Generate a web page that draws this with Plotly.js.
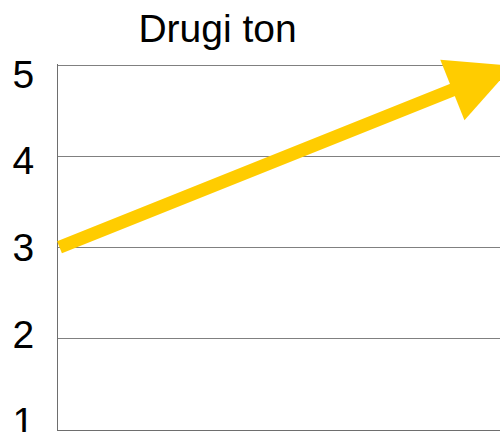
<!DOCTYPE html>
<html>
<head>
<meta charset="utf-8">
<script src="https://cdn.plot.ly/plotly-3.0.1.min.js"></script>
<style>
html, body { margin: 0; padding: 0; overflow: hidden; background: #fff; }
#chart { width: 540px; height: 432px; }
</style>
</head>
<body>
<div id="chart"></div>
<script>
// Data
const chartTitle = "Drugi ton";
const yTickVals = [1, 2, 3, 4, 5];
const yTickText = ["1", "2", "3", "4", "5"];
const arrowX = [0, 10];   // tail, head
const arrowY = [3, 5];

const W = 540, H = 432;
const fontFam = "Liberation Sans, Arial, sans-serif";

const layout = {
  width: W,
  height: H,
  margin: { l: 58, r: 0, t: 64, b: 2, pad: 0 },
  paper_bgcolor: "#ffffff",
  plot_bgcolor: "#ffffff",
  showlegend: false,
  title: {
    text: chartTitle,
    font: { family: fontFam, size: 39, color: "#000000" },
    xref: "container",
    yref: "container",
    x: 217.5 / W,
    xanchor: "center",
    y: 1 - 42 / H,
    yanchor: "bottom"
  },
  xaxis: {
    range: [0, 10.6],
    showgrid: false,
    zeroline: false,
    showline: true,
    linecolor: "#6e6e6e",
    linewidth: 1,
    showticklabels: false,
    ticks: "",
    fixedrange: true
  },
  yaxis: {
    range: [1, 5.02],
    tickvals: yTickVals,
    showticklabels: false,
    showgrid: true,
    gridcolor: "#808080",
    gridwidth: 1,
    zeroline: false,
    showline: true,
    linecolor: "#6e6e6e",
    linewidth: 1,
    ticks: "",
    fixedrange: true
  },
  yaxis2: {
    overlaying: "y",
    side: "left",
    range: [0.896, 5.115],
    tickvals: yTickVals,
    ticktext: yTickText,
    showgrid: false,
    zeroline: false,
    showline: false,
    ticks: "outside",
    ticklen: 15,
    tickcolor: "rgba(0,0,0,0)",
    ticklabeloverflow: "allow",
    tickfont: { family: fontFam, size: 39, color: "#000000" },
    fixedrange: true
  },
  annotations: [{
    x: arrowX[1], y: arrowY[1],
    ax: arrowX[0], ay: arrowY[0],
    xref: "x", yref: "y", axref: "x", ayref: "y",
    text: "",
    showarrow: true,
    arrowhead: 2,
    arrowsize: 1,
    arrowwidth: 13,
    arrowcolor: "#FFCC00"
  }]
};

const traces = [
  { x: arrowX, y: arrowY, mode: "none", type: "scatter", hoverinfo: "skip" },
  { x: arrowX, y: arrowY, mode: "none", type: "scatter", yaxis: "y2", hoverinfo: "skip" }
];

Plotly.newPlot("chart", traces, layout, { staticPlot: true, displayModeBar: false });
</script>
</body>
</html>
